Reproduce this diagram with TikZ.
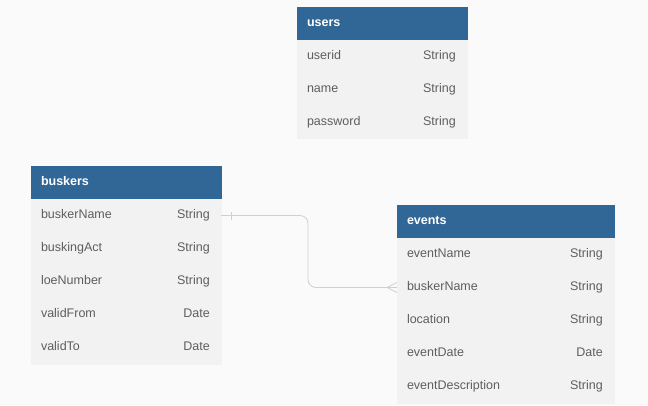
\documentclass[tikz,border=0pt]{standalone}
\usepackage{fontspec}
\setmainfont{Liberation Sans}
\usetikzlibrary{positioning}
\definecolor{hdrblue}{HTML}{316796}
\definecolor{rowgrey}{HTML}{F2F2F2}
\definecolor{bggrey}{HTML}{FAFAFA}
\definecolor{txtgrey}{HTML}{5E5E5E}
\definecolor{linegrey}{HTML}{D0D0D0}

\begin{document}
\begin{tikzpicture}[
x=1pt, y=-1pt,
every node/.style={font=\fontsize{12.5}{15}\selectfont, text height=9pt, text depth=2.5pt},
hdr/.style={fill=hdrblue, draw=hdrblue, line width=0.4pt, outer sep=0pt,
  text=white, font=\bfseries\fontsize{12.5}{15}\selectfont,
  minimum height=33pt, text width=#1, inner xsep=10pt, inner ysep=0pt, align=left},
row/.style={fill=rowgrey, draw=rowgrey, line width=0.4pt, outer sep=0pt,
  text=txtgrey, minimum height=33pt, text width=#1,
  inner xsep=10pt, inner ysep=0pt, align=left},
ftype/.style={text=txtgrey, inner sep=0pt, anchor=east},
rel/.style={draw=linegrey, line width=0.8pt},
]
% background
\fill[bggrey] (0,0) rectangle (648,405);

%% users
% nodes
\node[hdr=150pt, anchor=north west] (users) at (297,7) {users};
\node[row=150pt, below=0pt of users] (uId) {userid};
\node[row=150pt, below=0pt of uId] (uName) {name};
\node[row=150pt, below=0pt of uName, minimum height=32pt] (uPass) {password};
\node[ftype] (uIdT) at ([xshift=-11pt]uId.east) {String};
\node[ftype] (uNameT) at ([xshift=-11pt]uName.east) {String};
\node[ftype] (uPassT) at ([xshift=-11pt]uPass.east) {String};

%% buskers
% nodes
\node[hdr=170pt, anchor=north west] (buskers) at (31,166) {buskers};
\node[row=170pt, below=0pt of buskers] (bName) {buskerName};
\node[row=170pt, below=0pt of bName] (bAct) {buskingAct};
\node[row=170pt, below=0pt of bAct] (bLoe) {loeNumber};
\node[row=170pt, below=0pt of bLoe] (bFrom) {validFrom};
\node[row=170pt, below=0pt of bFrom] (bTo) {validTo};
\node[ftype] (bNameT) at ([xshift=-11pt]bName.east) {String};
\node[ftype] (bActT) at ([xshift=-11pt]bAct.east) {String};
\node[ftype] (bLoeT) at ([xshift=-11pt]bLoe.east) {String};
\node[ftype] (bFromT) at ([xshift=-11pt]bFrom.east) {Date};
\node[ftype] (bToT) at ([xshift=-11pt]bTo.east) {Date};

%% events
% nodes
\node[hdr=197pt, anchor=north west] (events) at (397,205) {events};
\node[row=197pt, below=0pt of events] (eName) {eventName};
\node[row=197pt, below=0pt of eName] (eBusker) {buskerName};
\node[row=197pt, below=0pt of eBusker] (eLoc) {location};
\node[row=197pt, below=0pt of eLoc] (eDate) {eventDate};
\node[row=197pt, below=0pt of eDate] (eDesc) {eventDescription};
\node[ftype] (eNameT) at ([xshift=-11pt]eName.east) {String};
\node[ftype] (eBuskerT) at ([xshift=-11pt]eBusker.east) {String};
\node[ftype] (eLocT) at ([xshift=-11pt]eLoc.east) {String};
\node[ftype] (eDateT) at ([xshift=-11pt]eDate.east) {Date};
\node[ftype] (eDescT) at ([xshift=-11pt]eDesc.east) {String};

%% relation buskers -> events
\draw[rel, rounded corners=8pt] (bName.east) -- ++(87,0) |- (eBusker.west);
% one
\draw[rel] ([xshift=10pt, yshift=4pt]bName.east) -- ([xshift=10pt, yshift=-4pt]bName.east);
% many
\draw[rel] ([yshift=5pt]eBusker.west) -- ([xshift=-10pt]eBusker.west) -- ([yshift=-5pt]eBusker.west);
\end{tikzpicture}
\end{document}
